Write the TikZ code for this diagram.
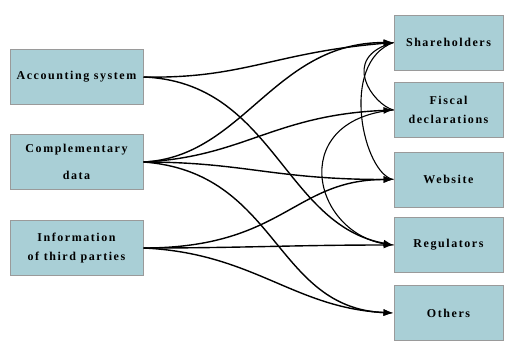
\documentclass[tikz,border=0pt]{standalone}
\usepackage{fontspec}
\setmainfont{Liberation Serif}
\usetikzlibrary{arrows.meta}
\definecolor{boxfill}{HTML}{A9CFD6}
\definecolor{boxline}{HTML}{9A9A9A}
\tikzset{
  box/.style={draw=boxline, line width=1pt, fill=boxfill, minimum height=55pt, align=center,
    font=\fontsize{12}{19}\selectfont\bfseries\addfontfeature{LetterSpace=13}, inner sep=0pt},
  src/.style={box, minimum width=133pt},
  tgt/.style={box, minimum width=109pt},
  conn/.style={line width=1.4pt, -{Latex[length=10pt,width=7pt]}},
  link/.style={line width=1.1pt}
}
\begin{document}
\begin{tikzpicture}[x=1pt,y=-1pt]
\useasboundingbox (0,0) rectangle (509,349);
\node[src] (acc) at (76.5,77) {Accounting system};
\node[src] (comp) at (76.5,162) {Complementary\\[8pt]data};
\node[src] (info) at (76.5,248) {Information\\of third parties};
\node[tgt] (sh) at (448.5,42.5) {Shareholders};
\node[tgt] (fi) at (448.5,110) {Fiscal\\declarations};
\node[tgt] (we) at (448.5,179.5) {Website};
\node[tgt] (re) at (448.5,245) {Regulators};
\node[tgt] (ot) at (448.5,313) {Others};
% inter-target links
\draw[link] (sh.west) .. controls +(-55,15) and +(-20,-5) .. (fi.west);
\draw[link] (sh.west) .. controls +(-55,20) and +(-30,-5) .. (we.west);
\draw[link] (fi.west) .. controls +(-110,10) and +(-80,-5) .. (re.west);
% from accounting
\draw[conn] (acc.east) .. controls +(100,2) and +(-120,10) .. (sh.west);
\draw[conn] (acc.east) .. controls +(130,5) and +(-110,-20) .. (re.west);
% from complementary
\draw[conn] (comp.east) .. controls +(100,-5) and +(-120,0) .. (sh.west);
\draw[conn] (comp.east) .. controls +(100,-5) and +(-120,5) .. (fi.west);
\draw[conn] (comp.east) .. controls +(100,0) and +(-120,0) .. (we.west);
\draw[conn] (comp.east) .. controls +(135,10) and +(-120,-5) .. (ot.west);
% from information
\draw[conn] (info.east) .. controls +(140,0) and +(-100,0) .. (we.west);
\draw[conn] (info.east) .. controls +(100,0) and +(-100,0) .. (re.west);
\draw[conn] (info.east) .. controls +(110,5) and +(-100,-5) .. (ot.west);
\end{tikzpicture}
\end{document}
